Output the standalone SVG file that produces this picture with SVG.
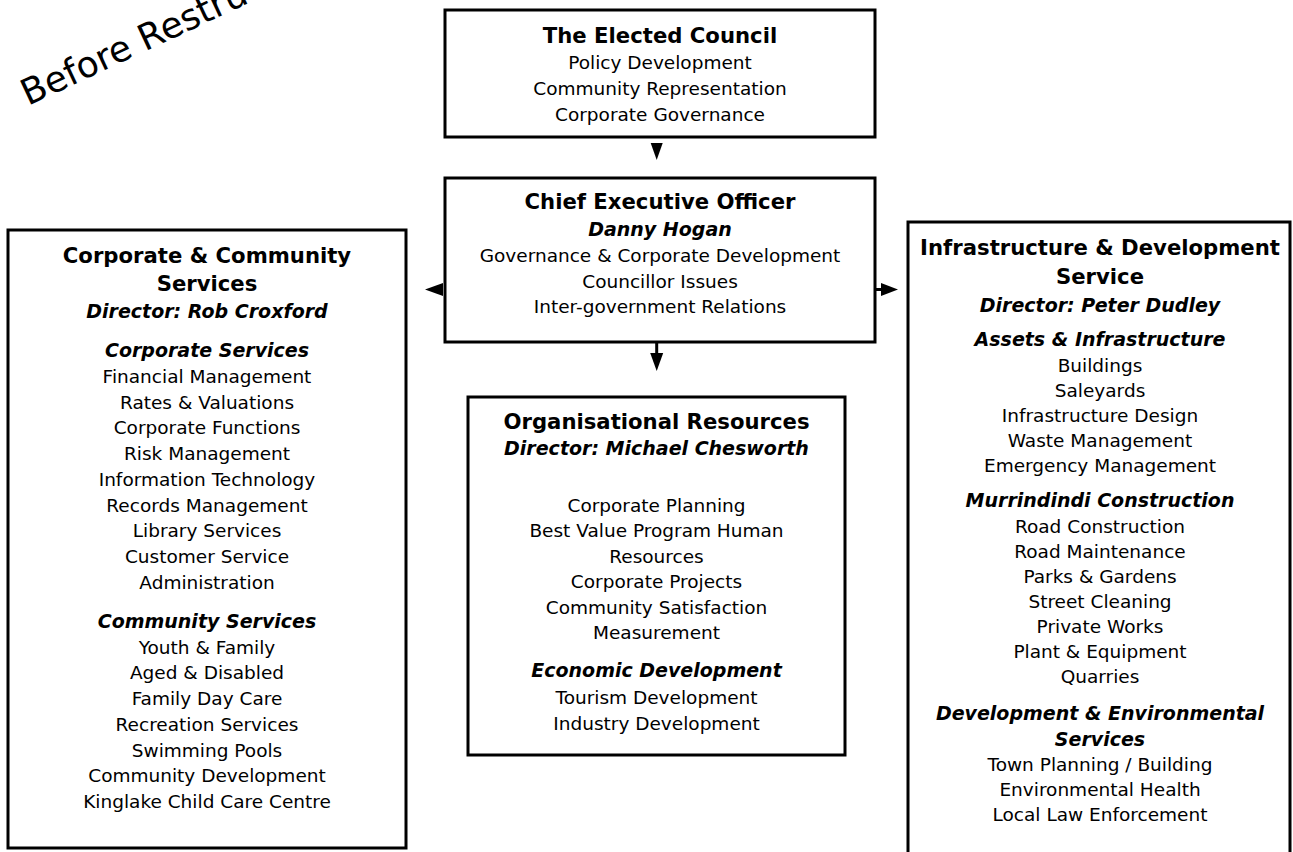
<svg xmlns="http://www.w3.org/2000/svg" width="1293" height="852" viewBox="0 0 1293 852">
<style>
.box{fill:#fff;stroke:#000;stroke-width:3}
text{font-family:"DejaVu Sans",Verdana,sans-serif;fill:#000;text-anchor:middle}
.t{font-size:21.2px;font-weight:bold}
.s{font-size:19px;font-weight:bold;font-style:italic}
.b{font-size:18.5px}
.ln{stroke:#000;stroke-width:3;fill:none}
.ah{fill:#000}
</style>
<rect x="0" y="0" width="1293" height="852" fill="#fff"/>
<text x="28" y="106" transform="rotate(-25 28 106)" style="font-size:36px;text-anchor:start">Before Restructure</text>

<g id="council">
<rect class="box" x="445" y="10" width="430" height="127"/>
<text class="t" x="660" y="43">The Elected Council</text>
<text class="b" x="660" y="69">Policy Development</text>
<text class="b" x="660" y="95">Community Representation</text>
<text class="b" x="660" y="121">Corporate Governance</text>
</g>

<g id="ceo">
<rect class="box" x="445" y="178" width="430" height="164"/>
<text class="t" x="660" y="209">Chief Executive Officer</text>
<text class="s" x="660" y="236">Danny Hogan</text>
<text class="b" x="660" y="262">Governance &amp; Corporate Development</text>
<text class="b" x="660" y="288">Councillor Issues</text>
<text class="b" x="660" y="313">Inter-government Relations</text>
</g>

<g id="corporate-community">
<rect class="box" x="8" y="230" width="398" height="618"/>
<text class="t" x="207" y="263">Corporate &amp; Community</text>
<text class="t" x="207" y="291">Services</text>
<text class="s" x="207" y="318">Director: Rob Croxford</text>
<text class="s" x="207" y="357">Corporate Services</text>
<text class="b" x="207" y="383">Financial Management</text>
<text class="b" x="207" y="408.7">Rates &amp; Valuations</text>
<text class="b" x="207" y="434.4">Corporate Functions</text>
<text class="b" x="207" y="460.1">Risk Management</text>
<text class="b" x="207" y="485.8">Information Technology</text>
<text class="b" x="207" y="511.5">Records Management</text>
<text class="b" x="207" y="537.2">Library Services</text>
<text class="b" x="207" y="562.9">Customer Service</text>
<text class="b" x="207" y="588.6">Administration</text>
<text class="s" x="207" y="628">Community Services</text>
<text class="b" x="207" y="653.7">Youth &amp; Family</text>
<text class="b" x="207" y="679.4">Aged &amp; Disabled</text>
<text class="b" x="207" y="705.1">Family Day Care</text>
<text class="b" x="207" y="730.8">Recreation Services</text>
<text class="b" x="207" y="756.5">Swimming Pools</text>
<text class="b" x="207" y="782.2">Community Development</text>
<text class="b" x="207" y="807.9">Kinglake Child Care Centre</text>
</g>

<g id="org-resources">
<rect class="box" x="468" y="397" width="377" height="358"/>
<text class="t" x="656.5" y="429">Organisational Resources</text>
<text class="s" x="656.5" y="455">Director: Michael Chesworth</text>
<text class="b" x="656.5" y="511.5">Corporate Planning</text>
<text class="b" x="656.5" y="537">Best Value Program Human</text>
<text class="b" x="656.5" y="562.5">Resources</text>
<text class="b" x="656.5" y="588">Corporate Projects</text>
<text class="b" x="656.5" y="613.5">Community Satisfaction</text>
<text class="b" x="656.5" y="639">Measurement</text>
<text class="s" x="656.5" y="677">Economic Development</text>
<text class="b" x="656.5" y="704">Tourism Development</text>
<text class="b" x="656.5" y="730">Industry Development</text>
</g>

<g id="infrastructure">
<rect class="box" x="908" y="222" width="382" height="700"/>
<text class="t" x="1100" y="255">Infrastructure &amp; Development</text>
<text class="t" x="1100" y="284">Service</text>
<text class="s" x="1100" y="311.7">Director: Peter Dudley</text>
<text class="s" x="1100" y="346">Assets &amp; Infrastructure</text>
<text class="b" x="1100" y="372">Buildings</text>
<text class="b" x="1100" y="397">Saleyards</text>
<text class="b" x="1100" y="422">Infrastructure Design</text>
<text class="b" x="1100" y="447">Waste Management</text>
<text class="b" x="1100" y="472">Emergency Management</text>
<text class="s" x="1100" y="507">Murrindindi Construction</text>
<text class="b" x="1100" y="533">Road Construction</text>
<text class="b" x="1100" y="558">Road Maintenance</text>
<text class="b" x="1100" y="583">Parks &amp; Gardens</text>
<text class="b" x="1100" y="608">Street Cleaning</text>
<text class="b" x="1100" y="633">Private Works</text>
<text class="b" x="1100" y="658">Plant &amp; Equipment</text>
<text class="b" x="1100" y="683">Quarries</text>
<text class="s" x="1100" y="720">Development &amp; Environmental</text>
<text class="s" x="1100" y="745.5">Services</text>
<text class="b" x="1100" y="771">Town Planning / Building</text>
<text class="b" x="1100" y="796">Environmental Health</text>
<text class="b" x="1100" y="821">Local Law Enforcement</text>
</g>

<g id="connectors">
<polygon class="ah" points="650.7,143 662.7,143 656.7,160"/>
<line class="ln" x1="656.7" y1="342" x2="656.7" y2="354"/>
<polygon class="ah" points="650.2,353 663.2,353 656.7,371"/>
<polygon class="ah" points="443,283 443,296 425,289.5"/>
<line class="ln" x1="875" y1="289.5" x2="882" y2="289.5"/>
<polygon class="ah" points="881,283 881,296 898,289.5"/>
</g>
</svg>
